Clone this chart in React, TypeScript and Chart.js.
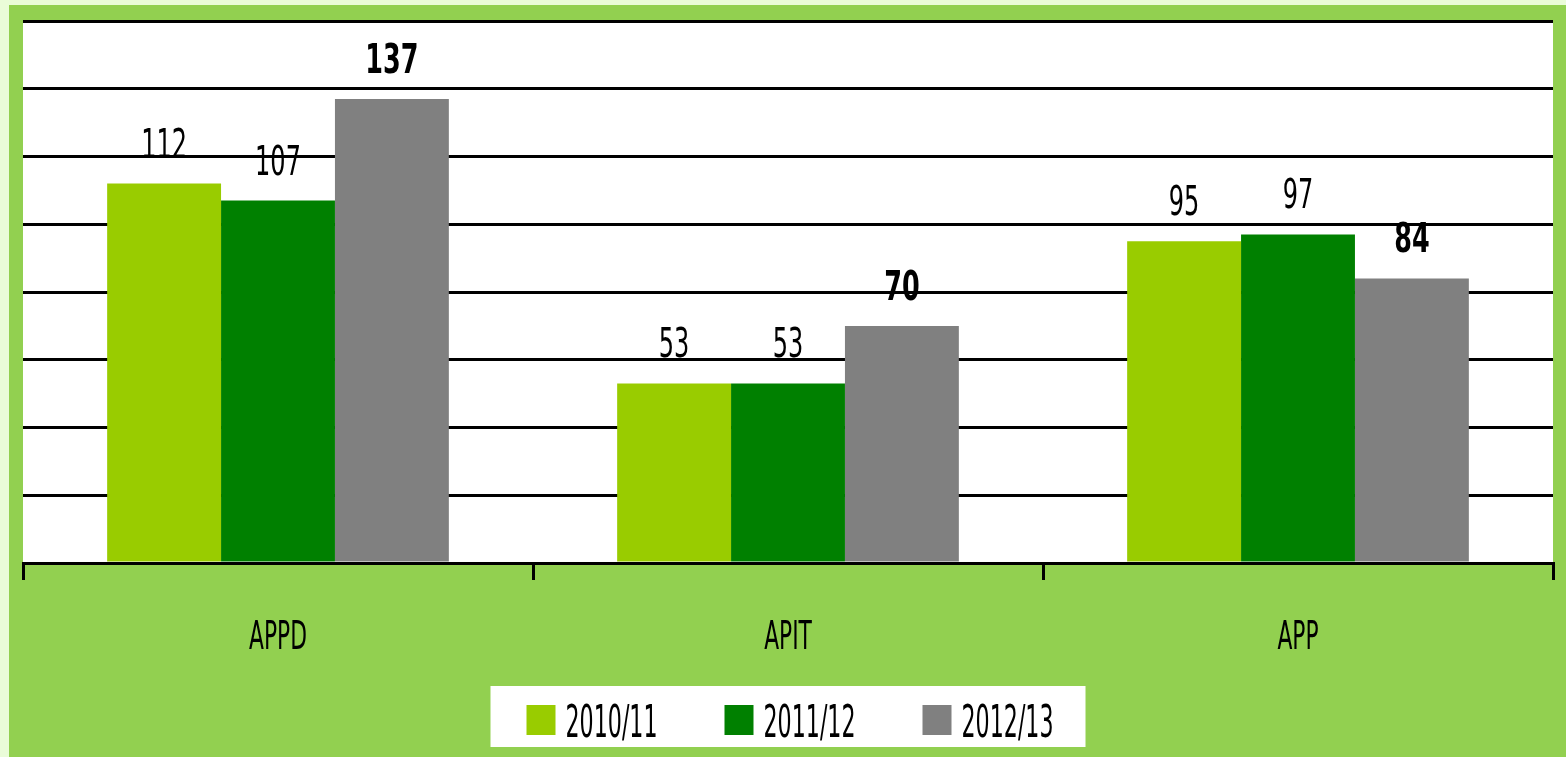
import React, { useEffect, useRef } from "react";
import { Chart, registerables } from "chart.js";

Chart.register(...registerables);

// ---- data ----
const categories = ["APPD", "APIT", "APP"];
const seriesLabels = ["2010/11", "2011/12", "2012/13"];
const series2010 = [112, 53, 95];
const series2011 = [107, 53, 97];
const series2012 = [137, 70, 84];
const seriesColors = ["#99CC00", "#008000", "#808080"];
const seriesBold = [false, false, true];
const yMax = 160;
const yStep = 20;

// ---- style ----
const FONT = "'DejaVu Sans Condensed', 'Liberation Sans Narrow', sans-serif";
const CANVAS_W = 1557;
const CANVAS_H = 752;

function drawText(
  ctx: CanvasRenderingContext2D,
  text: string,
  x: number,
  y: number,
  size: number,
  bold: boolean,
  sx: number,
  align: CanvasTextAlign
) {
  ctx.save();
  ctx.font = `${bold ? "bold " : ""}${size}px ${FONT}`;
  ctx.textBaseline = "alphabetic";
  ctx.textAlign = align;
  ctx.fillStyle = "#000000";
  ctx.translate(x, y);
  ctx.scale(sx, 1);
  ctx.fillText(text, 0, 0);
  ctx.restore();
}

const plotBgPlugin = {
  id: "plotBg",
  beforeDraw(chart: any) {
    const { ctx, chartArea } = chart;
    ctx.save();
    ctx.fillStyle = "#FFFFFF";
    ctx.fillRect(chartArea.left, chartArea.top, chartArea.right - chartArea.left, chartArea.bottom - chartArea.top);
    ctx.restore();
  },
};

const labelsPlugin = {
  id: "customLabels",
  afterDatasetsDraw(chart: any) {
    const ctx = chart.ctx;
    chart.data.datasets.forEach((ds: any, di: number) => {
      const meta = chart.getDatasetMeta(di);
      meta.data.forEach((bar: any, i: number) => {
        const bold = seriesBold[di];
        drawText(ctx, String(ds.data[i]), bar.x, bar.y - 26, 41, bold, bold ? 0.69 : 0.65, "center");
      });
    });
  },
  afterDraw(chart: any) {
    const ctx = chart.ctx;
    const xScale = chart.scales.x;
    // category labels
    categories.forEach((c, i) => {
      const x = xScale.getPixelForValue(i);
      drawText(ctx, c, x, 644, 39, false, 0.62, "center");
    });
    // legend
    const cx = chart.width / 2;
    ctx.save();
    ctx.fillStyle = "#FFFFFF";
    ctx.fillRect(cx - 297, 681, 595, 61);
    ctx.restore();
    seriesLabels.forEach((s, i) => {
      const bx = cx - 261 + i * 198;
      ctx.save();
      ctx.fillStyle = seriesColors[i];
      ctx.fillRect(bx, 700, 29, 30);
      ctx.restore();
      drawText(ctx, s, bx + 39, 732, 44, false, 0.56, "left");
    });
  },
};

export default function App() {
  const canvasRef = useRef<HTMLCanvasElement | null>(null);

  useEffect(() => {
    if (!canvasRef.current) return;
    const dataSeries = [series2010, series2011, series2012];
    const chart = new Chart(canvasRef.current, {
      type: "bar",
      data: {
        labels: categories,
        datasets: seriesLabels.map((name, i) => ({
          label: name,
          data: dataSeries[i],
          backgroundColor: seriesColors[i],
          borderWidth: 0,
          categoryPercentage: 0.67,
          barPercentage: 1.0,
        })),
      },
      options: {
        animation: false,
        responsive: false,
        maintainAspectRatio: false,
        layout: { padding: { top: 16, left: 14, right: 13, bottom: 0 } },
        plugins: {
          legend: { display: false },
          tooltip: { enabled: false },
          title: { display: false },
        },
        scales: {
          x: {
            grid: {
              display: true,
              drawOnChartArea: false,
              drawTicks: true,
              tickLength: 17,
              color: "#000000",
              lineWidth: 3,
              offset: true,
            },
            border: { display: true, color: "#000000", width: 3 },
            ticks: { display: false },
            afterFit: (scale: any) => {
              scale.height = 194;
            },
          },
          y: {
            min: 0,
            max: yMax,
            ticks: { display: false, stepSize: yStep },
            grid: { color: "#000000", lineWidth: 3, drawTicks: false },
            border: { display: false },
            afterFit: (scale: any) => {
              scale.width = 0;
            },
          },
        },
      },
      plugins: [plotBgPlugin, labelsPlugin],
    });
    return () => chart.destroy();
  }, []);

  return (
    <div
      style={{
        position: "fixed",
        left: 0,
        top: 0,
        width: 1566,
        height: 757,
        background: "#EAFCD8",
        overflow: "hidden",
      }}
    >
      <div
        style={{
          position: "absolute",
          left: 9,
          top: 5,
          width: CANVAS_W,
          height: CANVAS_H,
          background: "#92D050",
        }}
      >
        <canvas
          ref={canvasRef}
          width={CANVAS_W}
          height={CANVAS_H}
          style={{ display: "block", width: CANVAS_W, height: CANVAS_H }}
        />
      </div>
    </div>
  );
}
